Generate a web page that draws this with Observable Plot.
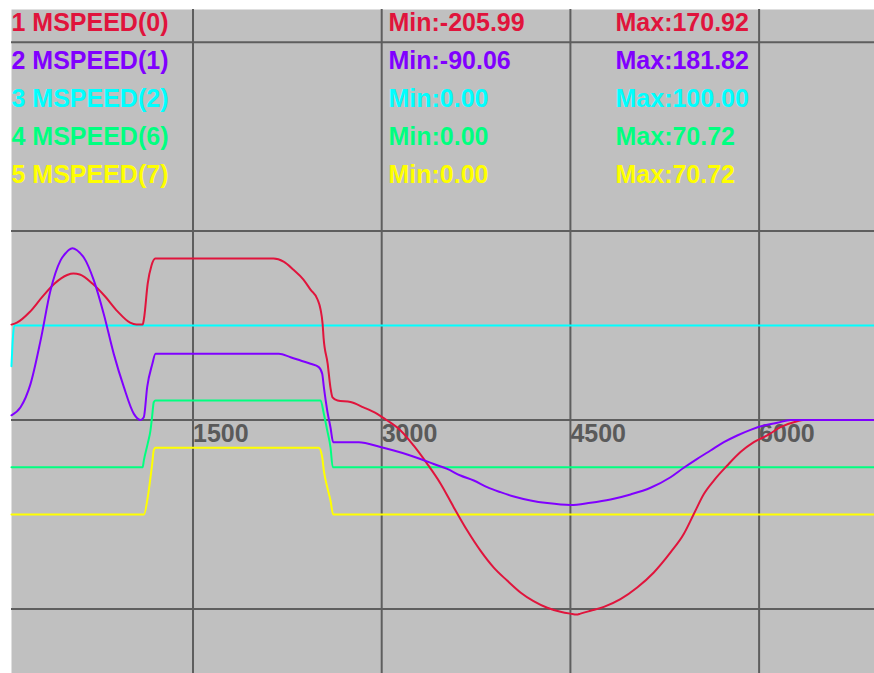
<!DOCTYPE html>
<html>
<head>
<meta charset="utf-8">
<script src="https://cdn.jsdelivr.net/npm/d3@7"></script>
<script src="https://cdn.jsdelivr.net/npm/@observablehq/plot@0.6"></script>
<style>
  html, body { margin: 0; padding: 0; background: #ffffff; }
  #chart svg { display: block; }
</style>
</head>
<body>
<div id="chart"></div>
<script>
// ---- labels ----
const seriesNames = ["1 MSPEED(0)", "2 MSPEED(1)", "3 MSPEED(2)", "4 MSPEED(6)", "5 MSPEED(7)"];
const minLabels = ["Min:-205.99", "Min:-90.06", "Min:0.00", "Min:0.00", "Min:0.00"];
const maxLabels = ["Max:170.92", "Max:181.82", "Max:100.00", "Max:70.72", "Max:70.72"];
const seriesColors = ["#e0143c", "#8000ff", "#00ffff", "#00ff80", "#ffff00"];
const channelOffsets = [0, 0, 0, -50, -100];   // scope display offset per channel
const xTicks = [1500, 3000, 4500, 6000];
const yGrid = [-200, 0, 200, 400];

// ---- series (sample index, value) ----
const t0 = [57, 100, 200, 300, 400, 500, 550, 600, 700, 800, 900, 1000, 1050, 1100, 1110, 1140, 1170, 1200,
  2140, 2220, 2299, 2378, 2434, 2490, 2514, 2530, 2538, 2570, 2593, 2609, 2649, 2752, 2855, 2964, 3044,
  3150, 3253, 3362, 3467, 3571, 3680, 3785, 3889, 3997, 4103, 4207, 4316, 4421, 4500, 4550, 4580, 4660,
  4766, 4898, 5031, 5163, 5296, 5401, 5481, 5561, 5640, 5747, 5852, 5958, 6064, 6170, 6303, 6350, 6917];
const v0 = [101, 103, 114, 130, 144.5, 153.5, 155, 154, 144.5, 131, 115, 103, 101, 101, 107, 144.5, 163.6, 170.92,
  170.92, 167.6, 159, 148.7, 138, 127.6, 117, 102, 87, 60, 34, 24, 20.6, 19, 13.4, 6.5, -0.5,
  -11.1, -27, -46.5, -67.2, -92, -117, -138.3, -156, -170, -182.6, -191.8, -198.8, -203, -205, -205.99, -205, -202,
  -197.8, -189.6, -177.3, -161.4, -140.2, -120.7, -99.5, -78.3, -64.1, -48.2, -34, -23.5, -16.4, -7.6, -1.3, 0, 0];

const t1 = [57, 129, 208, 288, 367, 447, 490, 512, 542, 575, 600, 632, 711, 791, 870, 950, 1030, 1083, 1109, 1136, 1176, 1202,
  2182, 2275, 2355, 2434, 2500, 2527, 2540, 2567, 2593, 2614, 2818, 2990, 3096, 3203, 3308, 3414, 3521,
  3626, 3732, 3838, 3944, 4050, 4183, 4316, 4500, 4660, 4819, 4978, 5137, 5296, 5401, 5508, 5614, 5720,
  5826, 5932, 6038, 6144, 6250, 6917];
const v1 = [5, 13.5, 38, 84, 137, 169, 177, 180, 181.82, 180, 177, 172, 148, 112, 70, 35, 6.5, 0, 3, 35, 59, 70,
  70, 66.5, 63, 59.5, 56, 49, 35, 10, -8, -23.5, -23.5, -28.6, -32.3, -36.5, -41.3, -46.6, -51.8,
  -58.8, -64.1, -71.1, -76.4, -81, -85.2, -88, -90.06, -87.6, -84.1, -78.8, -71.7, -60.6, -50.6, -41.1, -32.3, -23.5,
  -16.4, -10.4, -5.8, -3, 0, 0];

const t2 = [57, 65, 80, 6917];
const v2 = [57, 80, 100, 100];

const t3 = [57, 1100, 1109, 1140, 1162, 1176, 1188, 1202, 2514, 2540, 2567, 2593, 2611, 6917];
const v3 = [0, 0, 7, 25, 39, 55, 68.8, 70.72, 70.72, 56.6, 39, 21, 0, 0];

const t4 = [57, 1110, 1140, 1162, 1176, 1188, 1202, 2500, 2527, 2540, 2567, 2593, 2614, 6917];
const v4 = [0, 0, 18, 39, 54, 68, 70.72, 70.72, 60.6, 46.5, 28.9, 14.8, 0, 0];

const times = [t0, t1, t2, t3, t4];
const values = [v0, v1, v2, v3, v4];

// build per-channel tables
const channels = times.map((t, i) => t.map((x, j) => ({x, v: values[i][j] + channelOffsets[i]})));

const font = "'Liberation Sans', Arial, sans-serif";
const gridColor = "#5e5e5e";
const tickColor = "#5a5a5a";

const labelMarks = [];
seriesNames.forEach((name, i) => {
  const dy = 13.5 + 38.1 * i;
  const common = {frameAnchor: "top-left", textAnchor: "start", lineAnchor: "middle",
    fill: seriesColors[i], fontSize: 25, fontWeight: "bold", fontFamily: font, dy};
  labelMarks.push(Plot.text([name], {...common, text: d => d, dx: 0}));
  labelMarks.push(Plot.text([minLabels[i]], {...common, text: d => d, dx: 377}));
  labelMarks.push(Plot.text([maxLabels[i]], {...common, text: d => d, dx: 604}));
});

// drawing order: yellow, green, cyan, red, purple on top
const lineMarks = [4, 3, 2, 0, 1].map(i =>
  Plot.line(channels[i], {x: "x", y: "v", stroke: seriesColors[i], strokeWidth: 2, curve: "monotone-x"}));

const chart = Plot.plot({
  width: 874,
  height: 673,
  marginLeft: 11,
  marginTop: 9,
  marginRight: 0,
  marginBottom: 0,
  style: {background: "#ffffff", fontFamily: font},
  x: {domain: [57.2, 6917.3], axis: null},
  y: {domain: [-268.4, 434.6], axis: null},
  marks: [
    Plot.frame({fill: "#c0c0c0", stroke: null}),
    Plot.text(xTicks, {x: d => d, y: 0, text: d => String(d), textAnchor: "start", dy: 14, dx: 0,
      fill: tickColor, fontSize: 25, fontWeight: "bold", fontFamily: font}),
    Plot.ruleX(xTicks, {stroke: gridColor, strokeWidth: 2}),
    Plot.ruleY(yGrid, {stroke: gridColor, strokeWidth: 2}),
    ...lineMarks,
    ...labelMarks
  ]
});
document.getElementById("chart").appendChild(chart);
</script>
</body>
</html>
